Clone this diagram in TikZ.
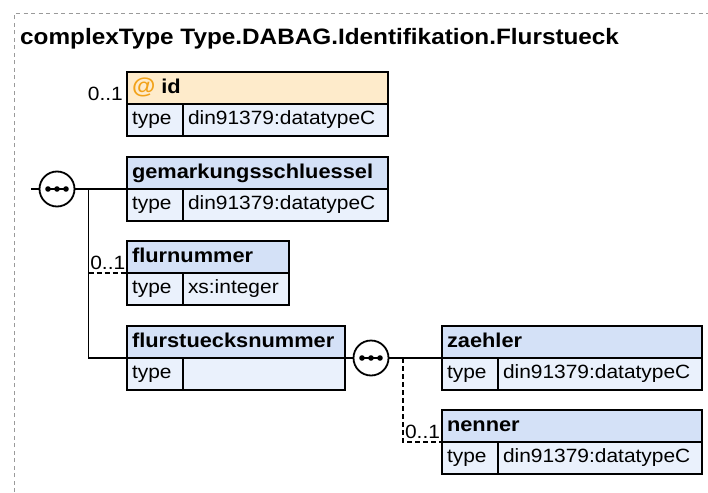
\documentclass[tikz,border=0pt]{standalone}
\usepackage{fontspec}
\setmainfont{Liberation Sans}[FakeStretch=1.09]
\usepackage{xcolor}
\usepackage{tikz}
\usetikzlibrary{positioning}
\definecolor{elemblue}{HTML}{D4E1F7}
\definecolor{typeblue}{HTML}{EAF1FC}
\definecolor{attrorange}{HTML}{FEEBCB}
\definecolor{atorange}{HTML}{F2A21A}
\definecolor{framegray}{HTML}{9A9A9A}

\begin{document}
\begin{tikzpicture}[x=1pt,y=-1pt,
      lw/.style={line width=1.8pt},
      head/.style={rectangle,draw,lw,fill=elemblue,anchor=north west,outer sep=0pt,
                   inner xsep=5pt,inner ysep=0pt,minimum height=32pt,text width=#1,align=left,
                   text height=15pt,text depth=4pt,font=\fontsize{20}{24}\selectfont\bfseries},
      tcell/.style={rectangle,draw,lw,fill=typeblue,anchor=north west,outer sep=0pt,
                   inner xsep=5pt,inner ysep=0pt,minimum height=32pt,text width=#1,align=left,
                   text height=14pt,text depth=5pt,font=\fontsize{19.2}{23}\selectfont},
      seq/.style={circle,draw,lw,fill=white,minimum size=35pt,inner sep=0pt},
      conn/.style={lw},
      opt/.style={lw,dash pattern=on 5pt off 3pt},
      card/.style={font=\fontsize{19.2}{23}\selectfont,inner xsep=1pt,inner ysep=2.5pt}]
    \useasboundingbox (0,0) rectangle (708,492);
    \draw[framegray,line width=1pt,dash pattern=on 4pt off 3.5pt] (14,492) -- (14,14) -- (708,14);
    \node[anchor=base west,inner sep=0pt,font=\fontsize{22.3}{26}\selectfont\bfseries] (title) at (20,45)
      {complexType Type.DABAG.Identifikation.Flurstueck};
    % attribute id
    \node[head=251pt,fill=attrorange] (idH) at (127,72)
      {\textcolor{atorange}{\fontsize{22}{24}\selectfont @}\hspace{6pt}id};
    \node[tcell=46pt]  (idT) at (idH.south west) {type};
    \node[tcell=195pt] (idV) at (idT.north east) {din91379:datatypeC};
    \node[card,anchor=base east,xshift=-3pt,yshift=4pt,inner sep=1pt] (idCard) at (idH.south west) {0..1};
    % outer sequence
    \node[head=251pt] (gemH) at (127,157) {gemarkungsschluessel};
    \node[tcell=46pt]  (gemT) at (gemH.south west) {type};
    \node[tcell=195pt] (gemV) at (gemT.north east) {din91379:datatypeC};
    \node[head=152pt] (flurH) at (127,241) {flurnummer};
    \node[tcell=46pt]  (flurT) at (flurH.south west) {type};
    \node[tcell=96pt]  (flurV) at (flurT.north east) {xs:integer};
    \node[head=208pt] (fsnH) at (127,326) {flurstuecksnummer};
    \node[tcell=46pt]  (fsnT) at (fsnH.south west) {type};
    \node[tcell=152pt] (fsnV) at (fsnT.north east) {};
    % inner sequence
    \node[head=250pt] (zaeH) at (442,326) {zaehler};
    \node[tcell=46pt]  (zaeT) at (zaeH.south west) {type};
    \node[tcell=194pt] (zaeV) at (zaeT.north east) {din91379:datatypeC};
    \node[head=250pt] (nenH) at (442,410) {nenner};
    \node[tcell=46pt]  (nenT) at (nenH.south west) {type};
    \node[tcell=194pt] (nenV) at (nenT.north east) {din91379:datatypeC};
    % compositors
    \node[seq] (seq1) at (57,189) {};
    \node[seq] (seq2) at (371,358) {};
    \foreach \s in {seq1,seq2}{
      \draw[lw] ([xshift=-9pt]\s.center) -- ([xshift=9pt]\s.center);
      \foreach \dx in {-9,0,9}
        \fill ([xshift=\dx pt]\s.center) circle (2.8pt);
    }
    % connectors
    \coordinate (in1) at (31,189);
    \coordinate (j1) at (88.5,189);
    \coordinate (j2) at (j1 |- flurH.south west);
    \coordinate (j3) at (403,358);
    \draw[conn] (in1) -- (seq1.west);
    \draw[conn] (seq1.east) -- (gemH.south west);
    \draw[conn] (j1) |- (fsnH.south west);
    \draw[opt] (j2) -- (flurH.south west) node[card,midway,above] (flurCard) {0..1};
    \draw[conn] (fsnH.south east) -- (seq2.west);
    \draw[conn] (seq2.east) -- (zaeH.south west);
    \draw[opt] (j3) |- (nenH.south west) node[card,pos=0.75,above] (nenCard) {0..1};
  \end{tikzpicture}
\end{document}
